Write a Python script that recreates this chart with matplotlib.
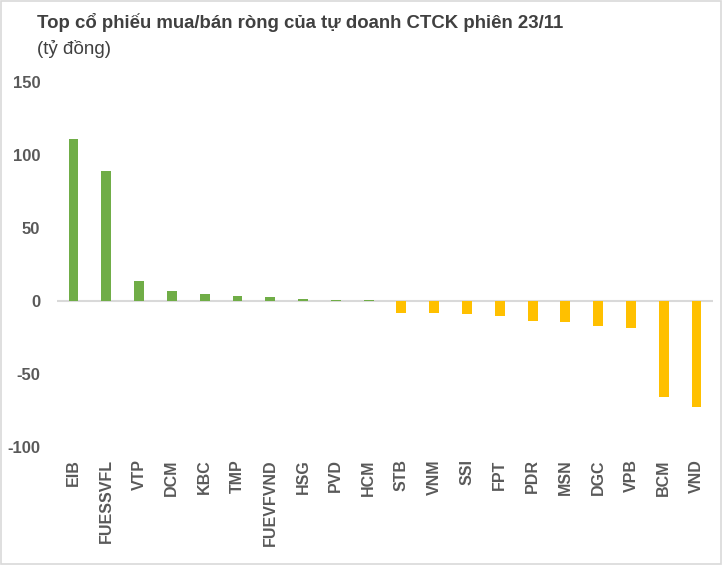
import matplotlib.pyplot as plt
from matplotlib.patches import Rectangle

# ====== Data (tỷ đồng) ======
tickers = ["EIB", "FUESSVFL", "VTP", "DCM", "KBC", "TMP", "FUEVFVND", "HSG", "PVD", "HCM",
           "STB", "VNM", "SSI", "FPT", "PDR", "MSN", "DGC", "VPB", "BCM", "VND"]
net_values = [111, 89, 13.7, 6.8, 4.8, 3.4, 2.7, 1.4, 0.8, 0.6,
              -8, -8.1, -9.3, -10.2, -13.5, -14.3, -17, -18.4, -65.5, -72.5]
y_ticks = [150, 100, 50, 0, -50, -100]
title = "Top cổ phiếu mua/bán ròng của tự doanh CTCK phiên 23/11"
subtitle = "(tỷ đồng)"

GREEN = "#70AD47"
YELLOW = "#FFC000"
TEXT = "#595959"

fig = plt.figure(figsize=(7.22, 5.65), dpi=100)
ax = fig.add_axes([0.079, 0.209, 0.9085, 0.646])

colors = [GREEN if v >= 0 else YELLOW for v in net_values]
ax.bar(range(len(tickers)), net_values, width=0.3, color=colors, zorder=2)

ax.axhline(0, color="#D9D9D9", linewidth=1.5, zorder=1)
ax.set_xlim(-0.5, len(tickers) - 0.5)
ax.set_ylim(-100, 150)
ax.set_yticks(y_ticks)
ax.set_yticklabels([str(t) for t in y_ticks])
ax.set_xticks(range(len(tickers)))
ax.set_xticklabels(tickers, rotation=90)

for side in ax.spines.values():
    side.set_visible(False)
ax.tick_params(axis="y", length=0, pad=12, labelsize=12, labelcolor=TEXT)
ax.tick_params(axis="x", length=0, pad=9, labelsize=11.5, labelcolor=TEXT)
for lbl in ax.get_xticklabels() + ax.get_yticklabels():
    lbl.set_fontfamily("Liberation Sans")
    lbl.set_fontweight("bold")

fig.text(0.051, 0.977, title, ha="left", va="top", fontsize=13.4,
         fontweight="bold", color="#404040", family="Liberation Sans")
fig.text(0.051, 0.93, subtitle, ha="left", va="top", fontsize=13.5,
         color="#404040", family="Liberation Sans")

# light frame around the chart
fig.patches.append(Rectangle((0.001, 0.001), 0.997, 0.997, transform=fig.transFigure,
                             fill=False, edgecolor="#D9D9D9", linewidth=1.2))

fig.savefig("out.png", dpi=100)
